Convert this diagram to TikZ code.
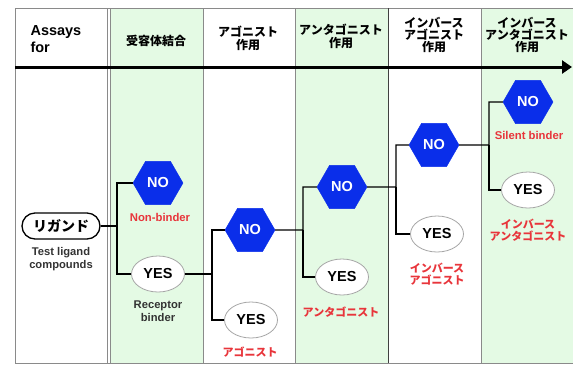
\documentclass[tikz,border=0pt]{standalone}
\usepackage{fontspec}
\setmainfont{Liberation Sans}
\newfontfamily\jp{Noto Sans CJK JP}
\usetikzlibrary{shapes.geometric,shapes.misc,arrows.meta}
\definecolor{mint}{HTML}{E4FAE4}
\definecolor{lred}{HTML}{E8353B}
\definecolor{frame}{HTML}{8A8A8A}
\definecolor{hexblue}{HTML}{0A2EEA}
\begin{document}
\begin{tikzpicture}[x=1pt,y=-1pt,
  nohex/.style={regular polygon,regular polygon sides=6,minimum size=50pt,inner sep=0pt,
    fill=hexblue,draw=hexblue,text=white,font=\fontsize{14.5}{14.5}\selectfont\bfseries},
  yesell/.style={ellipse,minimum width=53pt,minimum height=36pt,inner sep=0pt,fill=white,
    draw=gray!70,line width=0.8pt,font=\fontsize{14.5}{14.5}\selectfont\bfseries},
  ligbox/.style={rounded rectangle,minimum width=78pt,minimum height=26pt,inner sep=0pt,
    draw=black,line width=1.3pt,fill=white,font=\jp\fontsize{14}{14}\selectfont\bfseries},
  hdr/.style={align=center,font=\jp\fontsize{12}{13}\selectfont\bfseries},
  redlbl/.style={align=center,text=lred,font=\fontsize{11.3}{13}\selectfont\bfseries},
  redjp/.style={align=center,text=lred,font=\jp\fontsize{11}{12.5}\selectfont\bfseries},
  grylbl/.style={align=center,text=black!80,font=\fontsize{11.2}{13.5}\selectfont\bfseries},
  conn/.style={line width=1.4pt,black},
  colline/.style={draw=frame,line width=1pt}]
\useasboundingbox (0,0) rectangle (573,365);
% columns
\fill[mint] (111,8) rectangle (203,363);
\fill[mint] (295,8) rectangle (388,363);
\fill[mint] (481,8) rectangle (573,363);
\draw[colline] (573,8) -- (15,8) -- (15,363) -- (573,363);
\draw[colline] (107,8) -- (107,363);
\draw[colline] (110.5,8) -- (110.5,363);
\draw[colline] (203,8) -- (203,363);
\draw[colline] (295,8) -- (295,363);
\draw[colline,draw=black!75] (388,8) -- (388,363);
\draw[colline] (481,8) -- (481,363);
% header arrow
\coordinate (axs) at (15,67);
\coordinate (axe) at (572,67);
\draw[line width=3pt,-{Triangle[length=10pt,width=13pt]}] (axs) -- (axe);
% header texts
\node[anchor=west,align=left,font=\fontsize{14.5}{17}\selectfont\bfseries] (h0) at (27,39) {Assays\\for};
\node[hdr] (h1) at (156,41) {受容体結合};
\node[hdr] (h2) at (248,38) {アゴニスト\\作用};
\node[hdr] (h3) at (341,36) {アンタゴニスト\\作用};
\node[hdr,font=\jp\fontsize{12}{12.3}\selectfont\bfseries] (h4) at (434,35) {インバース\\アゴニスト\\作用};
\node[hdr,font=\jp\fontsize{12}{12.3}\selectfont\bfseries] (h5) at (527,35) {インバース\\アンタゴニスト\\作用};
% connectors
\coordinate (j1) at (117,226);
\coordinate (j2) at (212,274);
\coordinate (j3) at (303,230);
\coordinate (j4) at (396,187);
\coordinate (j5) at (489,145);
% nodes
\node[ligbox] (lig) at (61,226) {リガンド};
\node[grylbl] (ligl) at (61,259) {Test ligand\\compounds};
\node[nohex] (no1) at (158,183) {NO};
\node[redlbl] (no1l) at (160,217) {Non-binder};
\node[yesell] (yes1) at (158,274) {YES};
\node[grylbl] (yes1l) at (158,311) {Receptor\\binder};
\node[nohex] (no2) at (250,230) {NO};
\node[yesell] (yes2) at (251,320) {YES};
\node[redjp] (yes2l) at (250,352) {アゴニスト};
\node[nohex] (no3) at (342,187) {NO};
\node[yesell] (yes3) at (342,277) {YES};
\node[redjp] (yes3l) at (341,312) {アンタゴニスト};
\node[nohex] (no4) at (434,145) {NO};
\node[yesell] (yes4) at (437,234) {YES};
\node[redjp] (yes4l) at (437,274) {インバース\\アゴニスト};
\node[nohex] (no5) at (528,102) {NO};
\node[redlbl] (no5l) at (529,135) {Silent binder};
\node[yesell] (yes5) at (528,190) {YES};
\node[redjp] (yes5l) at (528,230) {インバース\\アンタゴニスト};
\draw[conn] (lig.east) -- (j1) |- (no1.west);
\draw[conn] (j1) |- (yes1.west);
\draw[conn] (yes1.east) -- (j2) |- (no2.west);
\draw[conn] (j2) |- (yes2.west);
\draw[conn] (no2.east) -- (j3) |- (no3.west);
\draw[conn] (j3) |- (yes3.west);
\draw[conn] (no3.east) -- (j4) |- (no4.west);
\draw[conn] (j4) |- (yes4.west);
\draw[conn] (no4.east) -- (j5) |- (no5.west);
\draw[conn] (j5) |- (yes5.west);
\end{tikzpicture}
\end{document}
